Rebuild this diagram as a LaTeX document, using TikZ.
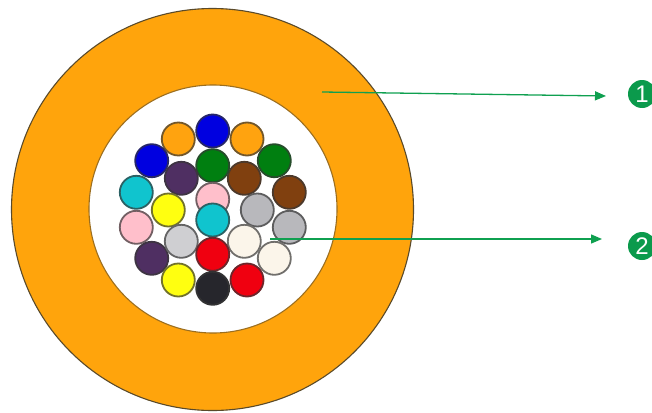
\documentclass[tikz,border=0pt]{standalone}
\usepackage{fontspec}
\setmainfont{Liberation Sans}
\usetikzlibrary{arrows.meta}
\definecolor{jacket}{HTML}{FFA40C}
\definecolor{rimc}{HTML}{5A4A2A}
\definecolor{lead}{HTML}{0FA050}
\definecolor{badge}{HTML}{0B9A4C}
\definecolor{fOrange}{HTML}{FFA30F}
\definecolor{fBlue}{HTML}{0000E0}
\definecolor{fGreen}{HTML}{007F10}
\definecolor{fPurple}{HTML}{4F2F62}
\definecolor{fBrown}{HTML}{80400F}
\definecolor{fCyan}{HTML}{10C4CE}
\definecolor{fPink}{HTML}{FFBFCB}
\definecolor{fYellow}{HTML}{FFFF10}
\definecolor{fGray}{HTML}{B8B8BC}
\definecolor{fLight}{HTML}{CFCFD2}
\definecolor{fWhite}{HTML}{FBF5EA}
\definecolor{fRed}{HTML}{F00010}
\definecolor{fBlack}{HTML}{26262C}
\tikzset{
  x=1pt,y=-1pt,
  fibre/.style={circle,draw=#1!35!black!85,fill=#1,line width=1.8pt,minimum size=33pt,inner sep=0pt},
  sheath/.style={circle,draw=rimc,line width=1.1pt,inner sep=0pt},
  leader/.style={draw=lead,line width=1.3pt,-{Stealth[length=11pt,width=9pt,inset=0pt]}},
  badgenode/.style={circle,fill=badge,text=white,minimum size=28pt,inner sep=0pt,font=\fontsize{24}{24}\selectfont}
}
\begin{document}
\begin{tikzpicture}
\useasboundingbox (0,0) rectangle (652,412);
\clip (0,0) rectangle (652,412);
\fill[white] (0,0) rectangle (652,412);
\node[sheath,fill=jacket,minimum size=402pt] (jacketc) at (212.5,209.5) {};
\node[sheath,fill=white,draw=rimc!60!jacket,minimum size=248pt] (core) at (213,209) {};
\node[fibre=fOrange] (f1) at (178.3,139) {};
\node[fibre=fOrange] (f2) at (247,139) {};
\node[fibre=fBlue] (f3) at (212.7,131) {};
\node[fibre=fGreen] (f4) at (274.3,160.7) {};
\node[fibre=fBrown] (f5) at (244.3,178.3) {};
\node[fibre=fGreen] (f6) at (212.7,165.7) {};
\node[fibre=fBlue] (f7) at (151.7,160.7) {};
\node[fibre=fPurple] (f8) at (181.3,178.3) {};
\node[fibre=fBrown] (f9) at (289.3,192.3) {};
\node[fibre=fPink] (f10) at (136.3,227.3) {};
\node[fibre=fCyan] (f11) at (136.3,192.3) {};
\node[fibre=fPink] (f12) at (212.7,199.3) {};
\node[fibre=fGray] (f13) at (289.3,227.3) {};
\node[fibre=fGray] (f14) at (257.3,210) {};
\node[fibre=fYellow] (f15) at (168.3,210) {};
\node[fibre=fCyan] (f16) at (212.7,220) {};
\node[fibre=fWhite] (f17) at (274.3,258.3) {};
\node[fibre=fWhite] (f18) at (244.3,241.3) {};
\node[fibre=fPurple] (f19) at (151.7,258.3) {};
\node[fibre=fLight] (f20) at (181.3,241.3) {};
\node[fibre=fRed] (f21) at (212.7,254.3) {};
\node[fibre=fYellow] (f22) at (178.3,280) {};
\node[fibre=fRed] (f23) at (247,280) {};
\node[fibre=fBlack] (f24) at (212.7,288.3) {};
\node[badgenode] (b1) at (642,94) {1};
\node[badgenode] (b2) at (642,246) {2};
\coordinate (s1) at (322,92);
\coordinate (e1) at (606,96);
\coordinate (s2) at (270,239);
\coordinate (e2) at (602,239);
\draw[leader] (s1) -- (e1);
\draw[leader] (s2) -- (e2);
\end{tikzpicture}
\end{document}
